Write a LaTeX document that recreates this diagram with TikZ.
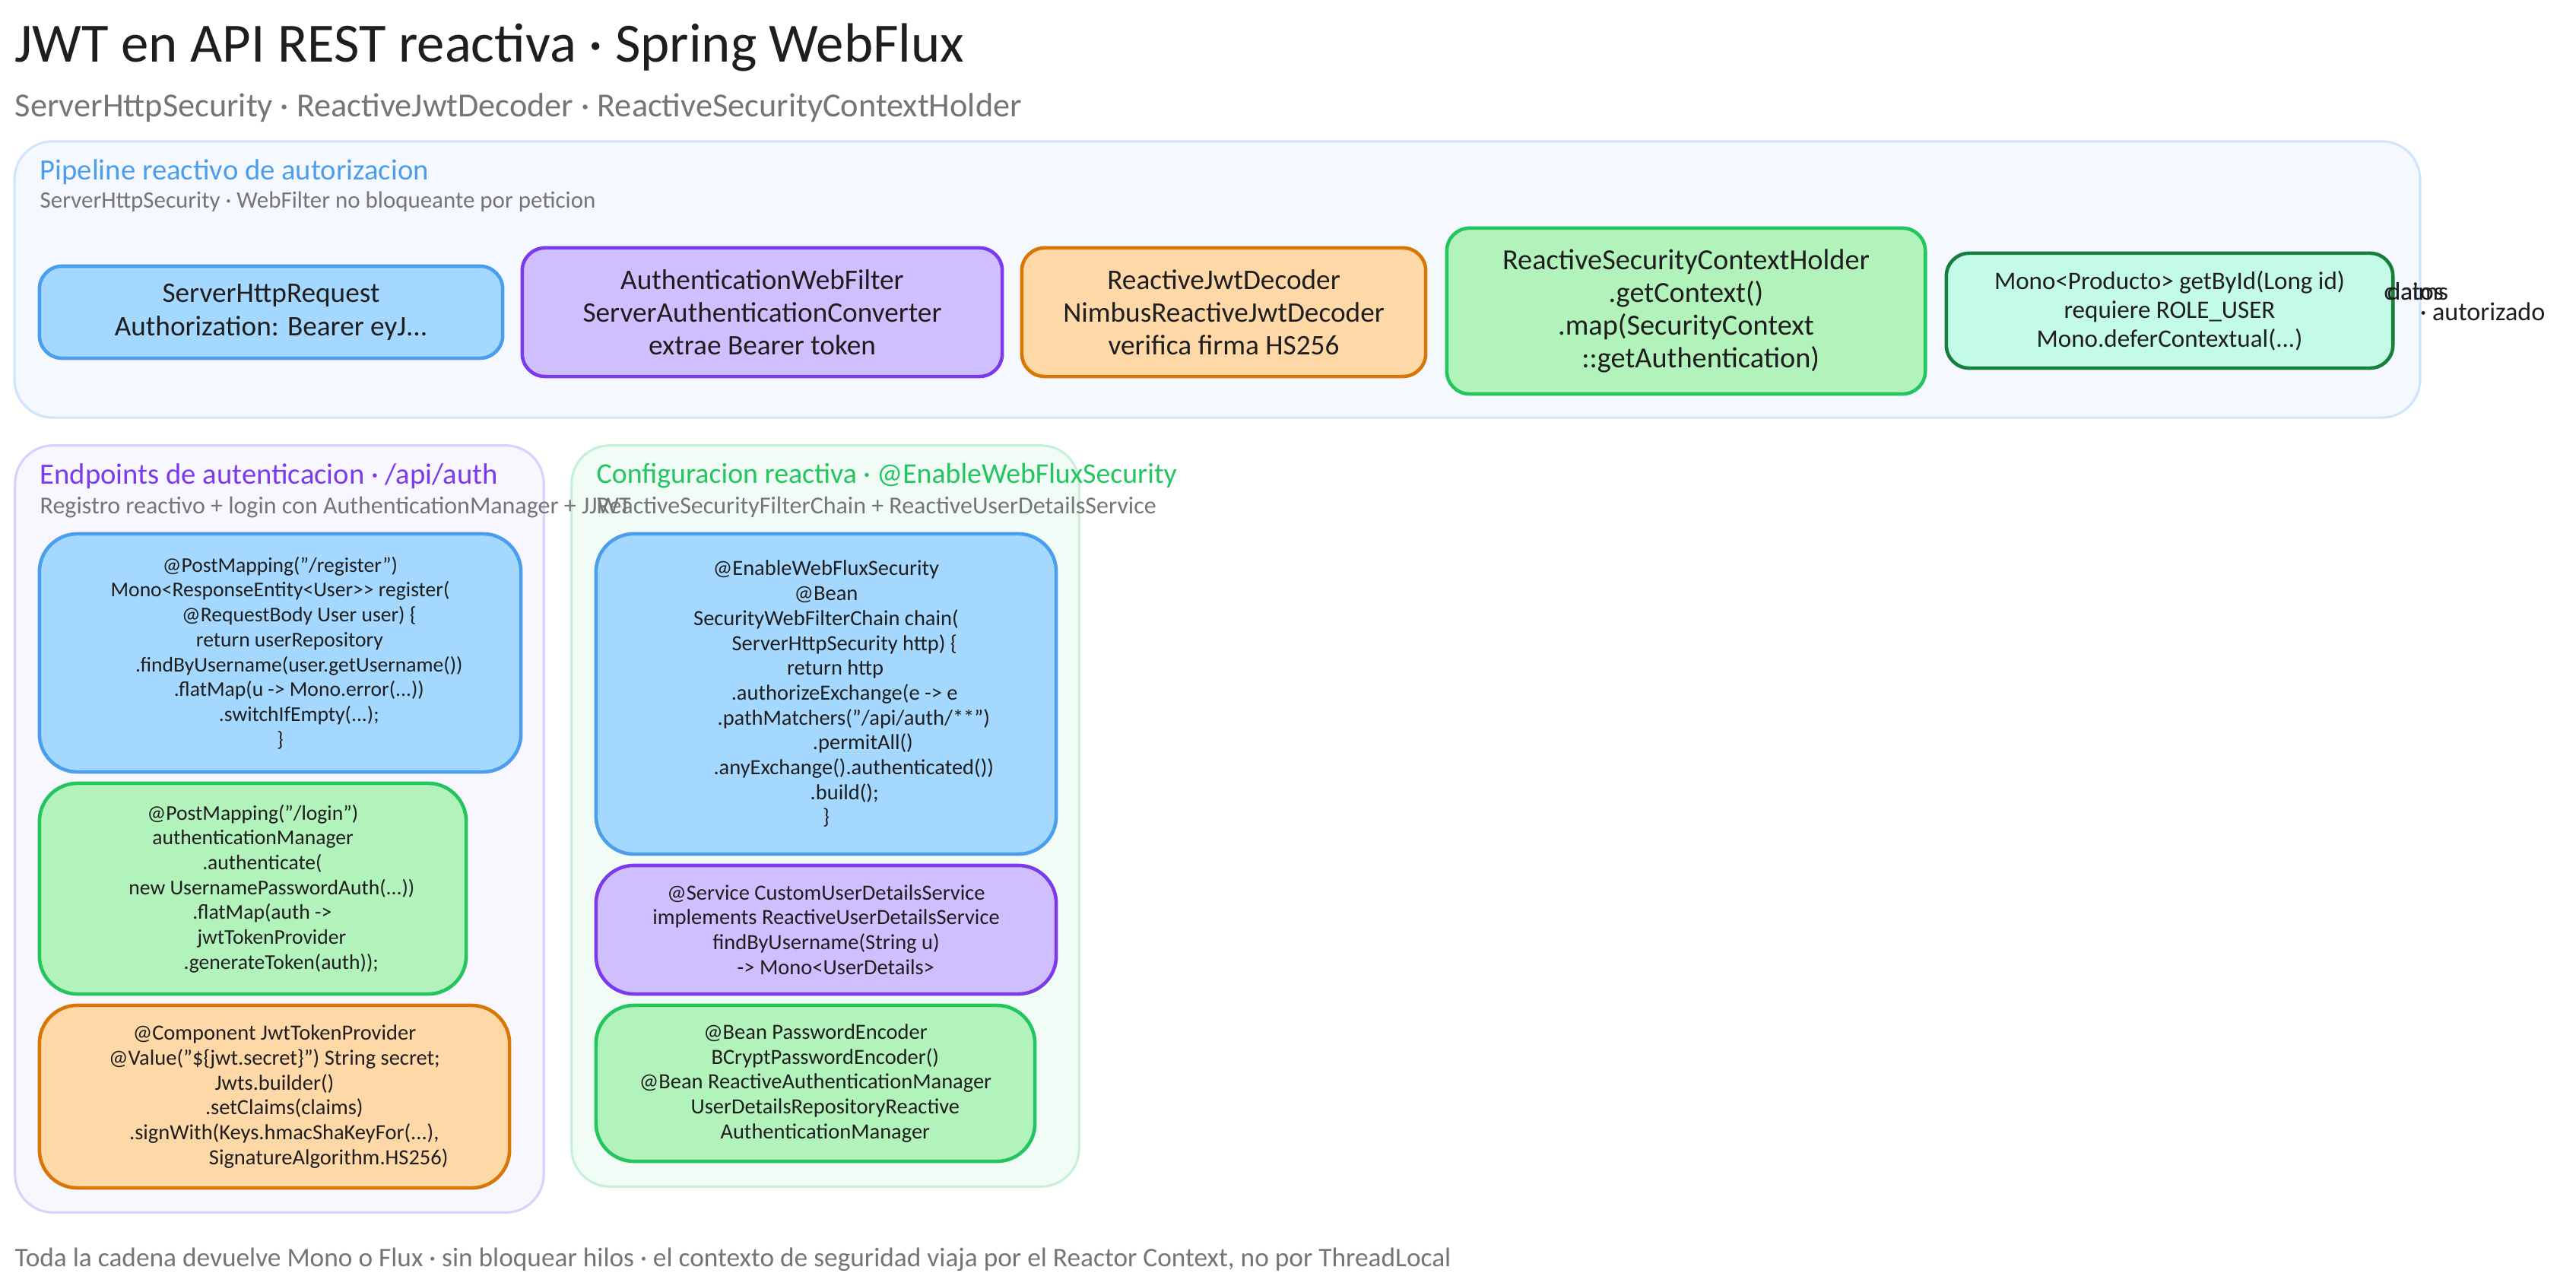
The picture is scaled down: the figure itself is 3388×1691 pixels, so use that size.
\documentclass[tikz,border=0pt]{standalone}
\usepackage{fontspec}
\setmainfont{Carlito}
\usepackage{amsmath}
\newcommand{\pad}[1]{\hspace*{#1em}}

\begin{document}
\begin{tikzpicture}
		[x=0.01cm,y=-0.01cm,line cap=round,
		%Styles
		group box/.style={rounded corners=0.5cm,draw,line width=0.9pt,inner sep=0pt},
		main box/.style={rounded corners=0.3cm,draw,line width=1.3pt,inner sep=0pt,text=ink,align=center,font=\fontsize{10.6}{12.3}\selectfont},
		code box/.style={main box,rounded corners=0.5cm,font=\fontsize{8.1}{9.3}\selectfont},
		free text/.style={anchor=west,inner sep=0pt,text=ink},
		group title/.style={free text,font=\fontsize{11}{13}\selectfont},
		group note/.style={free text,text=note,font=\fontsize{9.1}{11}\selectfont}
		]

		%Colors
		\definecolor{ink}{HTML}{1E1E1E}
		\definecolor{note}{HTML}{757575}
		\definecolor{bluefill}{HTML}{A5D8FF}	\definecolor{blueline}{HTML}{4A9EED}
		\definecolor{violetfill}{HTML}{D0BFFF}	\definecolor{violetline}{HTML}{7C3AED}
		\definecolor{orangefill}{HTML}{FFD8A8}	\definecolor{orangeline}{HTML}{D97706}
		\definecolor{greenfill}{HTML}{B2F2BB}	\definecolor{greenline}{HTML}{22C55E}
		\definecolor{tealfill}{HTML}{C3FAE8}	\definecolor{tealline}{HTML}{15803D}
		\definecolor{bluepale}{HTML}{F5F8FF}	\definecolor{blueedge}{HTML}{D0E5FB}
		\definecolor{violetpale}{HTML}{F8F6FF}	\definecolor{violetedge}{HTML}{DDD0FB}
		\definecolor{greenpale}{HTML}{F2FCF6}	\definecolor{greenedge}{HTML}{C8F0D8}

		\useasboundingbox (0,0) rectangle (3388,1691);

		%Heading
		\node[free text,font=\fontsize{20.7}{24}\selectfont] (title) at (19,62) {JWT en API REST reactiva · Spring WebFlux};
		\node[free text,text=note,font=\fontsize{12.6}{15}\selectfont] (subtitle) at (19,142) {ServerHttpSecurity · ReactiveJwtDecoder · ReactiveSecurityContextHolder};

		%The groups
		\node[group box,fill=bluepale,draw=blueedge,minimum width=31.62cm,minimum height=3.63cm] (pipeline) at (1601,367.5) {};
		\node[group box,fill=violetpale,draw=violetedge,minimum width=6.95cm,minimum height=10.08cm] (endpoints) at (367.5,1090) {};
		\node[group box,fill=greenpale,draw=greenedge,minimum width=6.67cm,minimum height=9.74cm] (config) at (1085.5,1073) {};

		%Pipeline
		\node[group title,text=blueline] (pipeline title) at (52,226) {Pipeline reactivo de autorizacion};
		\node[group note,font=\fontsize{8.8}{11}\selectfont] (pipeline note) at (52,265) {ServerHttpSecurity · WebFilter no bloqueante por peticion};

		\node[main box,fill=bluefill,draw=blueline,minimum width=6.09cm,minimum height=1.21cm] (request) at (356.5,410.5)
			{ServerHttpRequest\\Authorization: Bearer eyJ...};
		\node[main box,fill=violetfill,draw=violetline,minimum width=6.31cm,minimum height=1.69cm] (filter) at (1002.5,410.5)
			{AuthenticationWebFilter\\ServerAuthenticationConverter\\extrae Bearer token};
		\node[main box,fill=orangefill,draw=orangeline,minimum width=5.31cm,minimum height=1.69cm] (decoder) at (1609.5,410.5)
			{ReactiveJwtDecoder\\NimbusReactiveJwtDecoder\\verifica firma HS256};
		\node[main box,fill=greenfill,draw=greenline,minimum width=6.29cm,minimum height=2.18cm,font=\fontsize{10.9}{12.3}\selectfont] (holder) at (2217.5,409)
			{ReactiveSecurityContextHolder\\.getContext()\\.map(SecurityContext\\\pad{1}::getAuthentication)};
		\node[main box,fill=tealfill,draw=tealline,minimum width=5.87cm,minimum height=1.51cm,font=\fontsize{9.4}{10.8}\selectfont] (method) at (2853.5,408.5)
			{Mono<Producto> getById(Long id)\\requiere ROLE\_USER\\Mono.deferContextual(...)};

		\node[free text,font=\fontsize{9.4}{11}\selectfont] (claims) at (3135,383) {claims};
		\node[free text,font=\fontsize{9.4}{11}\selectfont] (datos) at (3139,383) {datos};
		\node[free text,font=\fontsize{9.7}{11}\selectfont] (authorized) at (3182,410) {· autorizado};

		%Endpoints
		\node[group title,text=violetline] (endpoints title) at (52,626) {Endpoints de autenticacion · /api/auth};
		\node[group note] (endpoints note) at (52,667) {Registro reactivo + login con AuthenticationManager + JJWT};

		\node[code box,fill=bluefill,draw=blueline,minimum width=6.33cm,minimum height=3.13cm,font=\fontsize{7.85}{9.3}\selectfont] (register) at (368.5,858.5)
			{@PostMapping("/register")\\Mono<ResponseEntity<User>{>} register(\\\pad{1.8}@RequestBody User user) \{\\\pad{.9}return userRepository\\\pad{1.8}.findByUsername(user.getUsername())\\\pad{1.8}.flatMap(u -> Mono.error(...))\\\pad{1.8}.switchIfEmpty(...);\\\}};
		\node[code box,fill=greenfill,draw=greenline,minimum width=5.61cm,minimum height=2.77cm,font=\fontsize{7.85}{9.3}\selectfont] (login) at (332.5,1168.5)
			{@PostMapping("/login")\\authenticationManager\\\pad{.9}.authenticate(\\\pad{1.8}new UsernamePasswordAuth(...))\\\pad{.9}.flatMap(auth ->\\\pad{1.8}jwtTokenProvider\\\pad{2.7}.generateToken(auth));};
		\node[code box,fill=orangefill,draw=orangeline,minimum width=6.18cm,minimum height=2.40cm] (provider) at (361,1442)
			{@Component JwtTokenProvider\\@Value("\$\{jwt.secret\}") String secret;\\Jwts.builder()\\\pad{.9}.setClaims(claims)\\\pad{.9}.signWith(Keys.hmacShaKeyFor(...),\\\pad{5}SignatureAlgorithm.HS256)};

		%Configuration
		\node[group title,text=greenline,font=\fontsize{10.75}{13}\selectfont] (config title) at (784,626) {Configuracion reactiva · @EnableWebFluxSecurity};
		\node[group note] (config note) at (784,667) {ReactiveSecurityFilterChain + ReactiveUserDetailsService};

		\node[code box,fill=bluefill,draw=blueline,minimum width=6.05cm,minimum height=4.21cm] (chain) at (1086.5,912.5)
			{@EnableWebFluxSecurity\\@Bean\\SecurityWebFilterChain chain(\\\pad{1.7}ServerHttpSecurity http) \{\\\pad{.85}return http\\\pad{1.7}.authorizeExchange(e -> e\\\pad{2.55}.pathMatchers("/api/auth/**")\\\pad{3.4}.permitAll()\\\pad{2.55}.anyExchange().authenticated())\\\pad{1.7}.build();\\\}};
		\node[code box,fill=violetfill,draw=violetline,minimum width=6.05cm,minimum height=1.69cm] (details) at (1086.5,1222.5)
			{@Service CustomUserDetailsService\\implements ReactiveUserDetailsService\\findByUsername(String u)\\\pad{.9}-> Mono<UserDetails>};
		\node[code box,fill=greenfill,draw=greenline,minimum width=5.77cm,minimum height=2.05cm] (encoder) at (1072.5,1424.5)
			{@Bean PasswordEncoder\\\pad{.9}BCryptPasswordEncoder()\\@Bean ReactiveAuthenticationManager\\\pad{.9}UserDetailsRepositoryReactive\\\pad{.9}AuthenticationManager};

		%Footer
		\node[free text,text=note,font=\fontsize{10.05}{12}\selectfont] (footer) at (19,1656) {Toda la cadena devuelve Mono o Flux · sin bloquear hilos · el contexto de seguridad viaja por el Reactor Context, no por ThreadLocal};
	\end{tikzpicture}
\end{document}
